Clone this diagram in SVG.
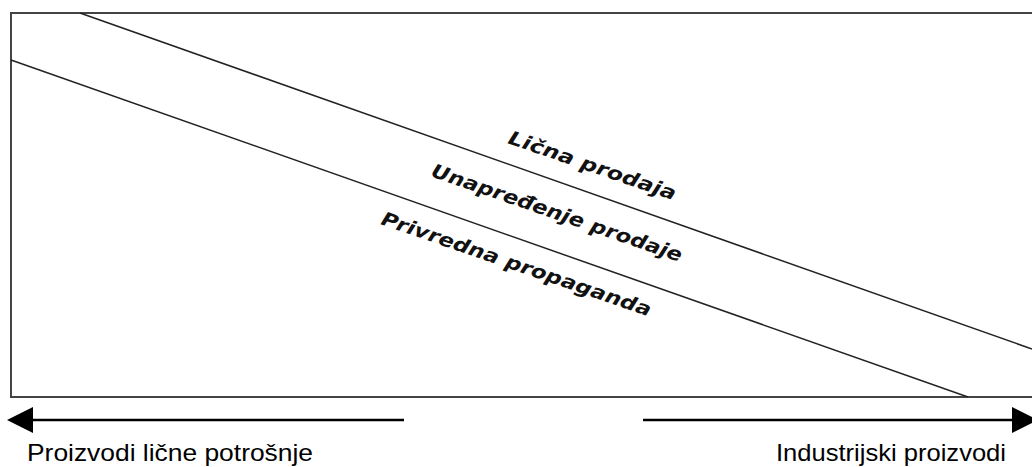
<svg xmlns="http://www.w3.org/2000/svg" width="1032" height="467" viewBox="0 0 1032 467">
<style>
.frame{fill:none;stroke:#444;stroke-width:2}
.div{fill:none;stroke:#222;stroke-width:1.5}
.arr{fill:none;stroke:#000;stroke-width:2.5}
.head{fill:#000}
.band{font-family:"DejaVu Sans",sans-serif;font-weight:bold;font-style:italic;font-size:19px;fill:#111}
.cap{font-family:"Liberation Sans",Arial,sans-serif;font-size:24px;fill:#000}
</style>
<rect width="1032" height="467" fill="#fff"/>
<g id="frame">
<path class="frame" d="M1032,13 L11,13 L11,397 L1032,397"/>
</g>
<g id="connectors">
<line class="div" x1="80" y1="13" x2="1032" y2="349"/>
<line class="div" x1="11" y1="60" x2="968" y2="397"/>
<line class="arr" x1="404" y1="420" x2="30" y2="420"/>
<path class="head" d="M33,407 L7,420 L33,433 z"/>
<line class="arr" x1="643" y1="420" x2="1012" y2="420"/>
<path class="head" d="M1012,407 L1038,420 L1012,433 z"/>
</g>
<g id="label-licna">
<text class="band" transform="translate(507,143) rotate(19)" textLength="176" lengthAdjust="spacingAndGlyphs">Lična prodaja</text>
</g>
<g id="label-unapredjenje">
<text class="band" transform="translate(430,176) rotate(19)" textLength="264" lengthAdjust="spacingAndGlyphs">Unapređenje prodaje</text>
</g>
<g id="label-privredna">
<text class="band" transform="translate(380,224) rotate(19)" textLength="284" lengthAdjust="spacingAndGlyphs">Privredna propaganda</text>
</g>
<g id="caption-left">
<text class="cap" x="27" y="461" textLength="286" lengthAdjust="spacingAndGlyphs">Proizvodi lične potrošnje</text>
</g>
<g id="caption-right">
<text class="cap" x="776" y="461" textLength="230" lengthAdjust="spacingAndGlyphs">Industrijski proizvodi</text>
</g>
</svg>
